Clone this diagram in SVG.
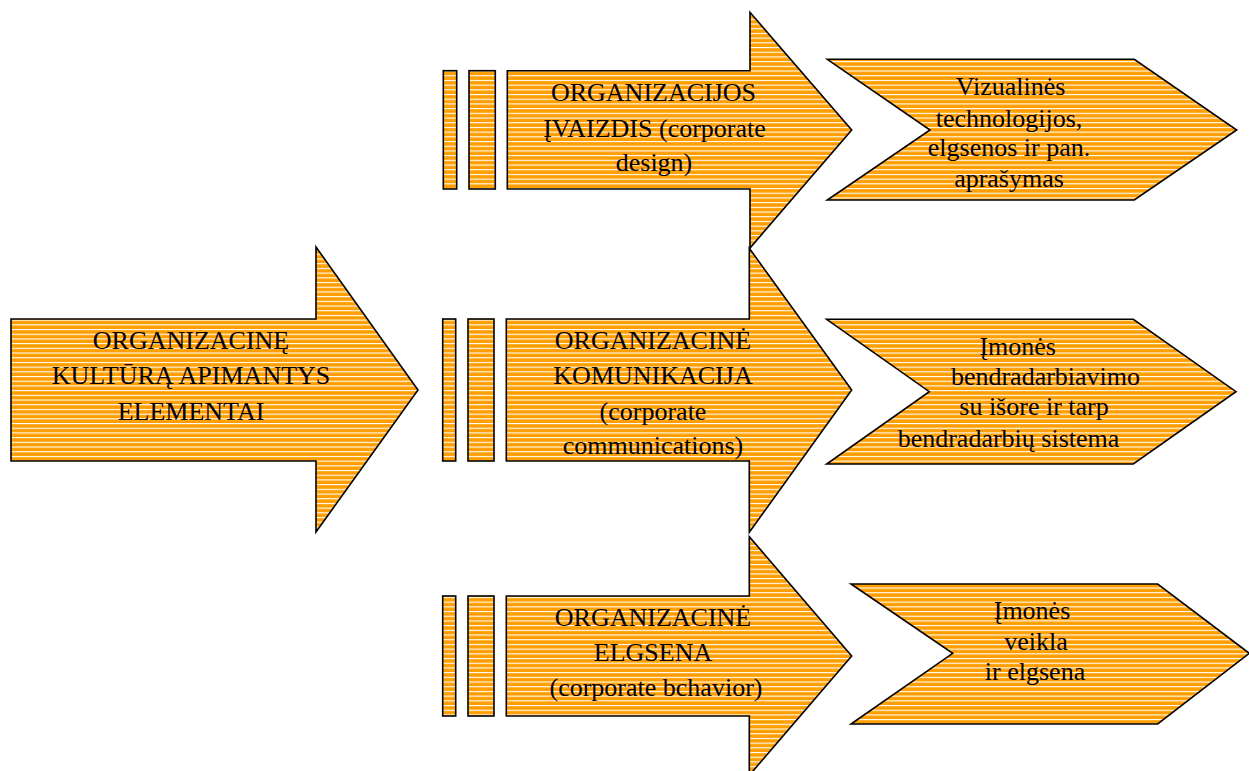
<svg xmlns="http://www.w3.org/2000/svg" width="1249" height="771" viewBox="0 0 1249 771">
<defs>
<pattern id="stripes" patternUnits="userSpaceOnUse" x="0" y="0" width="10" height="4.7">
<rect x="0" y="0" width="10" height="4.7" fill="#FF9E00"/>
<rect x="0" y="0" width="10" height="1.1" fill="#FFFFFF"/>
</pattern>
</defs>
<style>
.shape{fill:url(#stripes);stroke:#000;stroke-width:1.6;stroke-linejoin:miter}
.t{font-family:'Liberation Serif','DejaVu Serif',serif;font-size:26px;fill:#000;text-anchor:middle}
</style>
<rect width="1249" height="771" fill="#fff"/>
<g id="main-arrow">
<polygon class="shape" points="11,319 316,319 316,247 418,390 316,532 316,461 11,461"/>
<g class="t" font-family="Liberation Serif, DejaVu Serif, serif">
<text x="191" y="349">ORGANIZACINĘ</text>
<text x="191" y="384">KULTŪRĄ APIMANTYS</text>
<text x="191" y="420">ELEMENTAI</text>
</g>
</g>
<g id="design-arrow">
<rect class="shape" x="443.3" y="70.7" width="13.4" height="118.3"/>
<rect class="shape" x="469" y="70.7" width="26.3" height="118.3"/>
<polygon class="shape" points="507.3,70.7 750,70.7 750,12.3 851.7,130 750,248 750,189 507.3,189"/>
<g class="t" font-family="Liberation Serif, DejaVu Serif, serif">
<text x="653.5" y="101">ORGANIZACIJOS</text>
<text x="654.5" y="136.5">ĮVAIZDIS (corporate</text>
<text x="654" y="170.5">design)</text>
</g>
</g>
<g id="communication-arrow">
<rect class="shape" x="442.7" y="319" width="13" height="142"/>
<rect class="shape" x="468" y="319" width="26" height="142"/>
<polygon class="shape" points="506.3,319 749.3,319 749.3,248.3 851.7,390 749.3,532.3 749.3,461 506.3,461"/>
<g class="t" font-family="Liberation Serif, DejaVu Serif, serif">
<text x="653" y="349">ORGANIZACINĖ</text>
<text x="653" y="384">KOMUNIKACIJA</text>
<text x="653" y="419.5">(corporate</text>
<text x="653" y="453.5">communications)</text>
</g>
</g>
<g id="behavior-arrow">
<rect class="shape" x="442.7" y="596" width="13" height="120"/>
<rect class="shape" x="468" y="596" width="26" height="120"/>
<polygon class="shape" points="506.3,596 749.3,596 749.3,536.7 851.7,656 749.3,775.3 749.3,716 506.3,716"/>
<g class="t" font-family="Liberation Serif, DejaVu Serif, serif">
<text x="653" y="625.7">ORGANIZACINĖ</text>
<text x="653" y="660.7">ELGSENA</text>
<text x="656" y="696">(corporate bchavior)</text>
</g>
</g>
<g id="design-chevron">
<polygon class="shape" points="827.3,59.3 1134.3,59.3 1236.7,130 1134.3,200 827.3,200 930,130"/>
<g class="t" font-family="Liberation Serif, DejaVu Serif, serif">
<text x="1010.5" y="95">Vizualinės</text>
<text x="1009" y="126.5">technologijos,</text>
<text x="1009" y="155.5">elgsenos ir pan.</text>
<text x="1009" y="186.5">aprašymas</text>
</g>
</g>
<g id="communication-chevron">
<polygon class="shape" points="826.7,319.3 1133.3,319.3 1236,391.7 1133.3,464 826.7,464 929.3,391.7"/>
<g class="t" font-family="Liberation Serif, DejaVu Serif, serif">
<text x="1017.7" y="355">Įmonės</text>
<text x="1045.5" y="385">bendradarbiavimo</text>
<text x="1034" y="415">su išore ir tarp</text>
<text x="1008.5" y="446.5">bendradarbių sistema</text>
</g>
</g>
<g id="behavior-chevron">
<polygon class="shape" points="851,584 1157.7,584 1249.3,653.3 1157.7,724 851,724 952.7,653.3"/>
<g class="t" font-family="Liberation Serif, DejaVu Serif, serif">
<text x="1032" y="618.5">Įmonės</text>
<text x="1036" y="650">veikla</text>
<text x="1035" y="680">ir elgsena</text>
</g>
</g>
<g id="connectors"></g>
</svg>
